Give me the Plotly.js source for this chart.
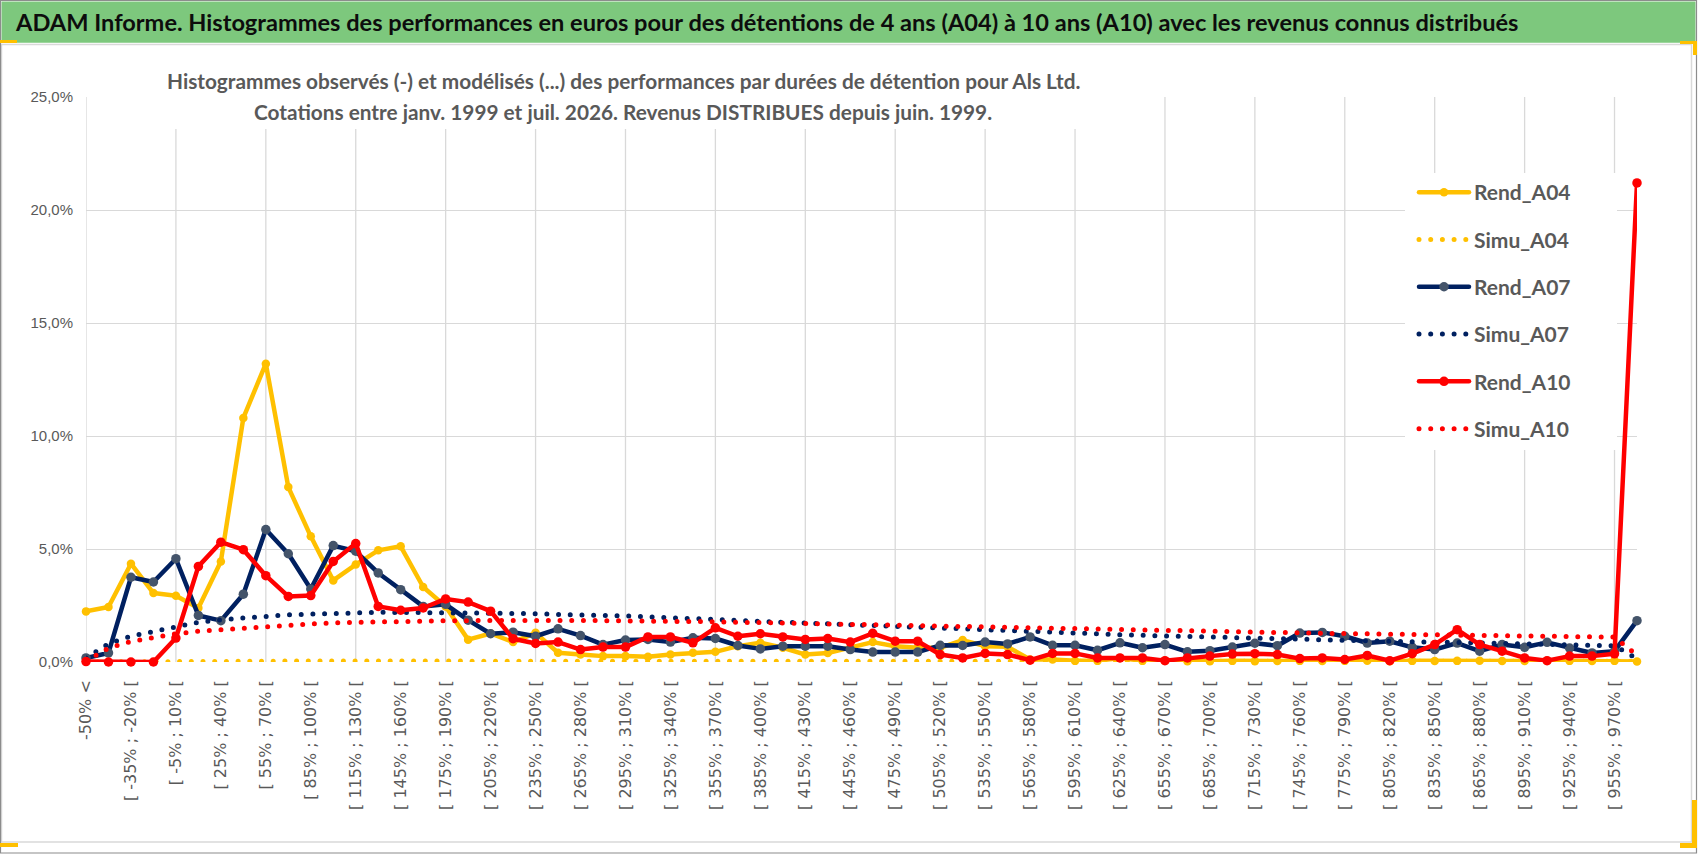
<!DOCTYPE html>
<html><head><meta charset="utf-8">
<script src="https://cdn.plot.ly/plotly-3.0.1.min.js"></script>
<style>
html,body{margin:0;padding:0;background:#fff;overflow:hidden;}
#chart{width:1698px;height:854px;}
.js-line{stroke-linecap:round;stroke-linejoin:round;}
</style></head><body><div id="chart"></div>
<script>
const categories = [
"-50% <","[ -50% ; -35% [","[ -35% ; -20% [","[ -20% ; -5% [","[ -5% ; 10% [","[ 10% ; 25% [","[ 25% ; 40% [","[ 40% ; 55% [",
"[ 55% ; 70% [","[ 70% ; 85% [","[ 85% ; 100% [","[ 100% ; 115% [","[ 115% ; 130% [","[ 130% ; 145% [","[ 145% ; 160% [","[ 160% ; 175% [",
"[ 175% ; 190% [","[ 190% ; 205% [","[ 205% ; 220% [","[ 220% ; 235% [","[ 235% ; 250% [","[ 250% ; 265% [","[ 265% ; 280% [","[ 280% ; 295% [",
"[ 295% ; 310% [","[ 310% ; 325% [","[ 325% ; 340% [","[ 340% ; 355% [","[ 355% ; 370% [","[ 370% ; 385% [","[ 385% ; 400% [","[ 400% ; 415% [",
"[ 415% ; 430% [","[ 430% ; 445% [","[ 445% ; 460% [","[ 460% ; 475% [","[ 475% ; 490% [","[ 490% ; 505% [","[ 505% ; 520% [","[ 520% ; 535% [",
"[ 535% ; 550% [","[ 550% ; 565% [","[ 565% ; 580% [","[ 580% ; 595% [","[ 595% ; 610% [","[ 610% ; 625% [","[ 625% ; 640% [","[ 640% ; 655% [",
"[ 655% ; 670% [","[ 670% ; 685% [","[ 685% ; 700% [","[ 700% ; 715% [","[ 715% ; 730% [","[ 730% ; 745% [","[ 745% ; 760% [","[ 760% ; 775% [",
"[ 775% ; 790% [","[ 790% ; 805% [","[ 805% ; 820% [","[ 820% ; 835% [","[ 835% ; 850% [","[ 850% ; 865% [","[ 865% ; 880% [","[ 880% ; 895% [",
"[ 895% ; 910% [","[ 910% ; 925% [","[ 925% ; 940% [","[ 940% ; 955% [","[ 955% ; 970% [","970% >"
];
const tickLabels = categories.filter((c, i) => i % 2 === 0 && i < 69);

// values in %
const rendA04 = [2.24,2.43,4.35,3.05,2.93,2.39,4.45,10.8,13.2,7.74,5.56,3.61,4.31,4.94,5.12,3.32,
2.46,0.99,1.26,0.88,1.29,0.41,0.33,0.26,0.26,0.23,0.33,0.41,0.45,0.70,0.85,0.63,
0.33,0.40,0.63,0.88,0.70,0.63,0.63,0.97,0.70,0.67,0.11,0.11,0.05,0.05,0.18,0.05,
0.05,0.03,0.03,0.05,0.03,0.04,0.05,0.04,0.05,0.06,0.03,0.05,0.04,0.05,0.06,0.04,
0.04,0.05,0.05,0.04,0.05,0.02];
const simuA04 = [0.00,0.01,0.02,0.03,0.04,0.04,0.04,0.04,0.04,0.04,0.04,0.04,0.04,0.04,0.04,0.04,
0.04,0.04,0.04,0.04,0.04,0.04,0.04,0.04,0.04,0.04,0.04,0.04,0.04,0.04,0.04,0.04,
0.04,0.04,0.04,0.04,0.04,0.04,0.04,0.04,0.04,0.04,0.04,0.04,0.04,0.04,0.04,0.04,
0.04,0.04,0.04,0.04,0.04,0.04,0.04,0.04,0.04,0.04,0.04,0.04,0.04,0.04,0.04,0.04,
0.04,0.04,0.04,0.04,0.04,0.03];
const rendA07 = [0.18,0.40,3.75,3.54,4.57,2.06,1.83,3.00,5.86,4.79,3.23,5.15,4.90,3.94,3.20,2.46,
2.55,1.85,1.25,1.32,1.14,1.47,1.17,0.77,0.97,1.00,0.88,1.07,1.04,0.73,0.58,0.70,
0.70,0.70,0.55,0.44,0.44,0.44,0.74,0.73,0.88,0.80,1.11,0.74,0.74,0.52,0.85,0.63,
0.77,0.45,0.50,0.66,0.83,0.72,1.28,1.31,1.14,0.84,0.92,0.65,0.55,0.84,0.48,0.77,
0.65,0.87,0.62,0.40,0.48,1.83];
const simuA07 = [0.18,0.81,1.14,1.36,1.58,1.76,1.87,1.95,2.02,2.09,2.12,2.17,2.17,2.20,2.20,2.20,
2.20,2.20,2.17,2.15,2.13,2.12,2.10,2.07,2.04,2.00,1.97,1.93,1.90,1.85,1.80,1.76,
1.72,1.68,1.64,1.60,1.56,1.52,1.48,1.44,1.40,1.37,1.33,1.30,1.27,1.24,1.21,1.18,
1.15,1.12,1.10,1.07,1.05,1.03,1.01,0.98,0.96,0.94,0.92,0.90,0.88,0.86,0.84,0.82,
0.80,0.78,0.76,0.74,0.72,0.15];
const rendA10 = [0.02,0.00,0.00,0.00,1.06,4.23,5.30,4.97,3.82,2.90,2.94,4.45,5.24,2.46,2.29,2.39,
2.79,2.65,2.25,1.03,0.82,0.88,0.55,0.66,0.66,1.11,1.11,0.85,1.51,1.14,1.25,1.11,
1.00,1.04,0.88,1.27,0.92,0.92,0.33,0.18,0.38,0.33,0.08,0.38,0.38,0.18,0.18,0.18,
0.06,0.18,0.26,0.35,0.37,0.33,0.15,0.18,0.11,0.29,0.06,0.37,0.77,1.43,0.77,0.48,
0.18,0.06,0.26,0.26,0.36,21.2];
const simuA10 = [0.03,0.62,0.91,1.09,1.25,1.36,1.43,1.50,1.58,1.62,1.68,1.73,1.76,1.77,1.78,1.80,
1.83,1.83,1.84,1.84,1.84,1.84,1.84,1.83,1.83,1.82,1.81,1.80,1.78,1.76,1.74,1.72,
1.70,1.68,1.66,1.63,1.61,1.59,1.57,1.55,1.53,1.51,1.49,1.47,1.45,1.43,1.42,1.40,
1.38,1.37,1.35,1.33,1.32,1.30,1.29,1.27,1.26,1.24,1.23,1.22,1.20,1.19,1.18,1.16,
1.15,1.14,1.12,1.11,1.10,0.30];

const seriesNames = ["Rend_A04","Simu_A04","Rend_A07","Simu_A07","Rend_A10","Simu_A10"];

const W = 1698, H = 854, L = 86, R = 61, T = 97, B = 192;
const PW = W - L - R, PH = H - T - B;
const px = x => (x - L) / PW;
const py = y => (H - B - y) / PH;

const YELLOW = "#FFC000", NAVY = "#002060", NAVYM = "#44546A", RED = "#FF0000";
const BOLDF = "Lato, Roboto, sans-serif";
const DOTS = "0px,11.7px";

function rend(name, y, color, mcolor, msize, g) {
  return {type: "scatter", mode: "lines+markers", name: name, x: categories, y: y,
    line: {color: color, width: 4.5}, marker: {color: mcolor, size: msize, line: {width: 0}},
    cliponaxis: false, legendgroup: g, hoverinfo: "x+y+name"};
}
function simu(name, y, color, g) {
  return {type: "scatter", mode: "lines", name: name, x: categories, y: y,
    line: {color: color, width: 5, dash: DOTS}, cliponaxis: false, legendgroup: g, hoverinfo: "x+y+name"};
}

const traces = [
  rend(seriesNames[0], rendA04, YELLOW, YELLOW, 8.5, "g1"),
  simu(seriesNames[1], simuA04, YELLOW, "g2"),
  rend(seriesNames[2], rendA07, NAVY, NAVYM, 9.5, "g3"),
  simu(seriesNames[3], simuA07, NAVY, "g4"),
  rend(seriesNames[4], rendA10, RED, RED, 9.5, "g5"),
  simu(seriesNames[5], simuA10, RED, "g6")
];

const shapes = [];
function rectPx(x0, y0, x1, y1, fill, lineColor, lw, layer) {
  shapes.push({type: "rect", xref: "paper", yref: "paper", x0: px(x0), x1: px(x1), y0: py(y0), y1: py(y1),
    fillcolor: fill || "rgba(0,0,0,0)", line: {color: lineColor || "rgba(0,0,0,0)", width: lw || 0}, layer: layer || "above"});
}
// vertical gridlines every 4 categories
for (let i = 0; i < categories.length - 1; i += 4) {
  shapes.push({type: "line", xref: "x", yref: "y", x0: i, x1: i, y0: 0, y1: 25,
    line: {color: "#D9D9D9", width: 1.3}, layer: "between"});
}
// frame and title band
rectPx(1.5, 1.5, 1695.5, 42.7, "#7DC87D", null, 0, "below");
rectPx(1.5, 44.5, 1691.5, 842, null, "#D9D9D9", 1.5, "below");
rectPx(0.5, 0.5, 1696.5, 853, null, "#8C8C8C", 1.2, "below");
// white boxes behind subtitle and legend
rectPx(163, 63, 1082, 129, "#FFFFFF", null, 0, "above");
rectPx(1405, 173, 1617, 450, "#FFFFFF", null, 0, "above");
// yellow corner marks
rectPx(0, 40, 17, 43, YELLOW, null, 0, "above");
rectPx(1680, 41, 1697, 44, YELLOW, null, 0, "above");
rectPx(1693, 41, 1697, 55, YELLOW, null, 0, "above");
rectPx(0, 843, 18, 847, YELLOW, null, 0, "above");
rectPx(1680, 843, 1697, 848, YELLOW, null, 0, "above");
rectPx(1692, 800, 1697, 848, YELLOW, null, 0, "above");

const annotations = [
  {xref: "paper", yref: "paper", x: px(13), y: py(22), xanchor: "left", yanchor: "middle", showarrow: false,
   text: "<b>ADAM Informe. Histogrammes des performances en euros pour des détentions de 4 ans (A04) à 10 ans (A10) avec les revenus connus distribués</b>",
   font: {family: BOLDF, size: 23.6, color: "#0D0D0D"}},
  {xref: "paper", yref: "paper", x: px(623), y: py(80), xanchor: "center", yanchor: "middle", showarrow: false,
   text: "<b>Histogrammes observés (-) et modélisés (...) des performances par durées de détention pour Als Ltd.</b>",
   font: {family: BOLDF, size: 20.8, color: "#595959"}},
  {xref: "paper", yref: "paper", x: px(623), y: py(111.5), xanchor: "center", yanchor: "middle", showarrow: false,
   text: "<b>Cotations entre janv. 1999 et juil. 2026. Revenus DISTRIBUES depuis juin. 1999.</b>",
   font: {family: BOLDF, size: 20.8, color: "#595959"}}
];

const layout = {
  width: W, height: H,
  margin: {l: L, r: R, t: T, b: B, pad: 0},
  paper_bgcolor: "#FFFFFF", plot_bgcolor: "rgba(0,0,0,0)",
  separators: ", ",
  showlegend: true,
  hovermode: "closest",
  xaxis: {type: "category", range: [0, categories.length - 1], tickmode: "array", tickvals: tickLabels, ticktext: tickLabels,
    tickangle: -90, showgrid: false, zeroline: false, showline: false, ticks: "", ticklabelstandoff: 14,
    tickfont: {family: "DejaVu Sans, sans-serif", size: 16, color: "#595959"}, fixedrange: true},
  yaxis: {range: [0, 25], tickmode: "linear", tick0: 0, dtick: 5, tickformat: ".1f", ticksuffix: "%",
    showgrid: true, gridcolor: "#D9D9D9", gridwidth: 1.3, zeroline: false, showline: false, ticks: "",
    ticklabelstandoff: 12, tickfont: {family: "Liberation Sans, Arial, sans-serif", size: 15, color: "#595959"}, fixedrange: true},
  legend: {x: px(1414), y: py(172), xanchor: "left", yanchor: "top", bgcolor: "rgba(0,0,0,0)", borderwidth: 0,
    itemwidth: 50, tracegroupgap: 17, traceorder: "grouped",
    font: {family: BOLDF, size: 21, color: "#595959", weight: "bold"}},
  shapes: shapes,
  annotations: annotations
};

Plotly.newPlot("chart", traces, layout, {displayModeBar: false, staticPlot: false});
</script>
</body></html>
